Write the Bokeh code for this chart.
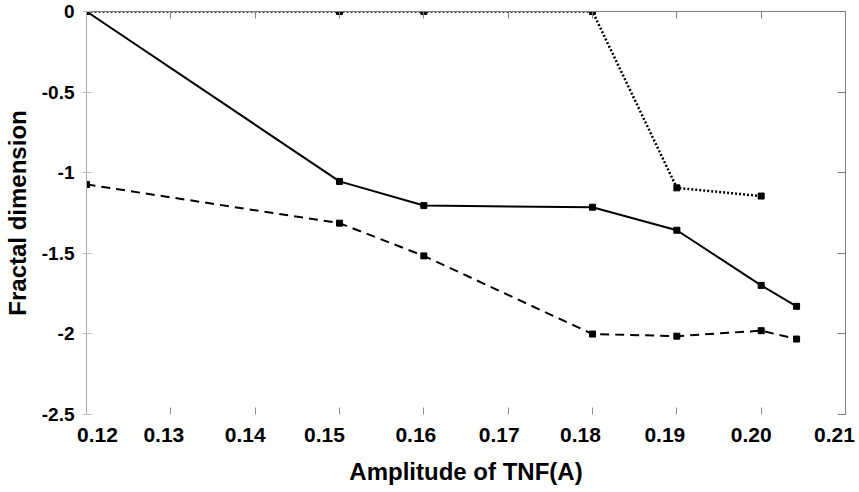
from bokeh.plotting import figure
from bokeh.models import Range1d, LinearAxis, FixedTicker
from bokeh.embed import file_html
from bokeh.resources import INLINE

# ---- data ----
amp = [0.12, 0.15, 0.16, 0.18, 0.19, 0.20, 0.2042]
solid_fd = [0.0, -1.054, -1.204, -1.214, -1.357, -1.699, -1.829]
dashed_fd = [-1.073, -1.313, -1.516, -2.001, -2.014, -1.980, -2.032]
amp_dotted = [0.12, 0.15, 0.16, 0.18, 0.19, 0.20]
dotted_fd = [0.0, 0.0, 0.0, 0.0, -1.094, -1.145]

x_ticks = [0.12, 0.13, 0.14, 0.15, 0.16, 0.17, 0.18, 0.19, 0.20, 0.21]
x_tick_labels = ["0.12", "0.13", "0.14", "0.15", "0.16", "0.17", "0.18", "0.19", "0.20", "0.21"]
y_ticks = [0.0, -0.5, -1.0, -1.5, -2.0, -2.5]
y_tick_labels = {0.0: "0", -0.5: "-0.5", -1.0: "-1", -1.5: "-1.5", -2.0: "-2", -2.5: "-2.5"}

# layout-only: horizontal shift (px) of each x tick label relative to its tick
label_shift = [11, -7, -10, -15, -8, -9, -12, -12, -10, -11]

FONT = "Liberation Sans"
X0, X1 = 0.12, 0.21
FRAME_W = 859 - 86 - 14

p = figure(width=859, height=492, output_backend="svg", toolbar_location=None,
           x_range=Range1d(X0, X1), y_range=Range1d(-2.5, 0.0),
           min_border_left=86, min_border_right=14, min_border_top=11, min_border_bottom=78,
           x_axis_location=None, y_axis_location=None)
p.grid.visible = False
p.outline_line_color = None
p.background_fill_color = "white"
p.border_fill_color = "white"

# left axis
yl = LinearAxis(ticker=FixedTicker(ticks=y_ticks), major_label_overrides=y_tick_labels)
yl.axis_line_color = "#aaaaaa"
yl.major_tick_line_color = "#bbbbbb"
yl.major_tick_in = 5
yl.major_tick_out = 4
yl.minor_tick_line_color = None
yl.major_label_text_font = FONT
yl.major_label_text_font_style = "bold"
yl.major_label_text_font_size = "19px"
yl.major_label_text_color = "black"
yl.major_label_standoff = 8
yl.axis_label = "Fractal dimension"
yl.axis_label_text_font = FONT
yl.axis_label_text_font_style = "bold"
yl.axis_label_text_font_size = "24px"
yl.axis_label_text_color = "black"
yl.axis_label_standoff = 8
p.add_layout(yl, "left")

# right axis (no labels, inward ticks)
yr = LinearAxis(ticker=FixedTicker(ticks=y_ticks))
yr.major_label_text_color = None
yr.major_label_text_font_size = "1px"
yr.axis_line_color = "#808080"
yr.major_tick_line_color = "#808080"
yr.major_tick_in = 8
yr.major_tick_out = 0
yr.minor_tick_line_color = None
p.add_layout(yr, "right")

# top axis (no labels, inward ticks)
xt = LinearAxis(ticker=FixedTicker(ticks=x_ticks))
xt.major_label_text_color = None
xt.major_label_text_font_size = "1px"
xt.axis_line_color = "#808080"
xt.major_tick_line_color = "#808080"
xt.major_tick_in = 7
xt.major_tick_out = 0
xt.minor_tick_line_color = None
p.add_layout(xt, "above")

# bottom tick axis (no line, inward ticks, no labels)
xb = LinearAxis(ticker=FixedTicker(ticks=x_ticks))
xb.major_label_text_color = None
xb.major_label_text_font_size = "1px"
xb.major_label_standoff = 0
xb.axis_line_color = None
xb.major_tick_line_color = "#909090"
xb.major_tick_in = 7
xb.major_tick_out = 0
xb.minor_tick_line_color = None
p.add_layout(xb, "below")

# bottom label axis: labels placed slightly off the ticks as in the reference
lab_pos = [round(t + dx * (X1 - X0) / FRAME_W, 6) for t, dx in zip(x_ticks, label_shift)]
xl = LinearAxis(ticker=FixedTicker(ticks=lab_pos),
                major_label_overrides={pos: txt for pos, txt in zip(lab_pos, x_tick_labels)})
xl.axis_line_color = None
xl.major_tick_line_color = None
xl.major_tick_in = 0
xl.major_tick_out = 0
xl.minor_tick_line_color = None
xl.major_label_standoff = 13
xl.major_label_text_font = FONT
xl.major_label_text_font_style = "bold"
xl.major_label_text_font_size = "21px"
xl.major_label_text_color = "black"
xl.axis_label = "Amplitude of TNF(A)"
xl.axis_label_text_font = FONT
xl.axis_label_text_font_style = "bold"
xl.axis_label_text_font_size = "24px"
xl.axis_label_text_color = "black"
xl.axis_label_standoff = 13
p.add_layout(xl, "below")

# series
p.line(amp, solid_fd, line_color="black", line_width=2)
p.scatter(amp, solid_fd, marker="square", size=6, color="black")

p.line(amp, dashed_fd, line_color="black", line_width=2, line_dash="9 6")
p.scatter(amp, dashed_fd, marker="square", size=6, color="black")

p.line(amp_dotted, dotted_fd, line_color="black", line_width=2.5, line_dash="2 2")
p.scatter(amp_dotted, dotted_fd, marker="square", size=6, color="black")

open("out.html", "w").write(file_html(p, INLINE))
